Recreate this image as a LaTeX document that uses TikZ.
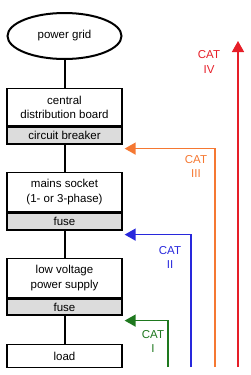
\documentclass[tikz,border=0pt]{standalone}
\usepackage{fontspec}
\setmainfont{Liberation Sans}
\usetikzlibrary{shapes.geometric,arrows.meta,calc}
\definecolor{catred}{RGB}{230,30,40}
\definecolor{catorange}{RGB}{245,120,50}
\definecolor{catblue}{RGB}{40,40,220}
\definecolor{catgreen}{RGB}{30,120,30}
\definecolor{bandgrey}{RGB}{220,220,220}
\begin{document}
\begin{tikzpicture}[x=1pt,y=-1pt,
  font=\fontsize{11.5}{14.5}\selectfont,
  mainbox/.style={draw=black,line width=1.3pt,fill=white,minimum width=115pt,align=center,inner sep=0pt,anchor=north},
  band/.style={draw=black,line width=1.3pt,fill=bandgrey,minimum width=115pt,inner sep=0pt,anchor=north},
  wire/.style={line width=2pt,black},
  catarrow/.style={line width=1.5pt,-{Triangle[length=11pt,width=12pt]}},
  catlabel/.style={align=center,inner sep=0pt}]
\useasboundingbox (0,0) rectangle (250,375);

\node[draw=black,line width=2pt,ellipse,minimum width=114pt,minimum height=46pt,inner sep=0pt] (grid) at (64.5,36) {power grid};

\node[mainbox,minimum height=37pt] (b1) at (64.5,88) {central\\distribution board};
\node[band,minimum height=17pt] (c1) at (b1.south) {circuit breaker};

\node[mainbox,minimum height=39pt] (b2) at (64.5,172) {mains socket\\(1- or 3-phase)};
\node[band,minimum height=17pt] (c2) at (b2.south) {fuse};

\node[mainbox,minimum height=39pt] (b3) at (64.5,258) {low voltage\\power supply};
\node[band,minimum height=16pt] (c3) at (b3.south) {fuse};

\node[mainbox,minimum height=23pt] (b4) at (64.5,344) {load};

\draw[wire] (grid.south) -- (b1.north);
\draw[wire] (c1.south) -- (b2.north);
\draw[wire] (c2.south) -- (b3.north);
\draw[wire] (c3.south) -- (b4.north);

% CAT IV
\coordinate (r0) at (238,367);
\coordinate (r1) at (238,41);
\draw[catarrow,catred] (r0) -- (r1);
\node[catlabel,text=catred] (l4) at (209,62) {CAT\\IV};

% CAT III
\coordinate (o0) at (215,367);
\coordinate (o1) at ($(c1.south east)+(2,4)$);
\draw[catarrow,catorange] (o0) |- (o1);
\node[catlabel,text=catorange] (l3) at (196,166.5) {CAT\\III};

% CAT II
\coordinate (u0) at (191,367);
\coordinate (u1) at ($(c2.south east)+(2,4)$);
\draw[catarrow,catblue] (u0) |- (u1);
\node[catlabel,text=catblue] (l2) at (170,257.5) {CAT\\II};

% CAT I
\coordinate (g0) at (168,367);
\coordinate (g1) at ($(c3.south east)+(2,5)$);
\draw[catarrow,catgreen] (g0) |- (g1);
\node[catlabel,text=catgreen] (l1) at (153,341.5) {CAT\\I};
\end{tikzpicture}
\end{document}
